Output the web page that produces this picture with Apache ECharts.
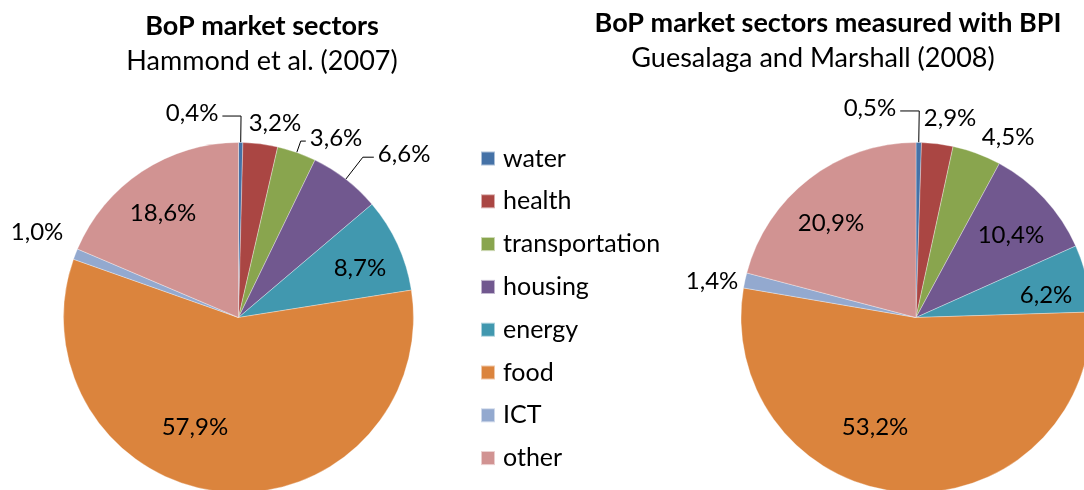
<!DOCTYPE html>
<html><head><meta charset="utf-8">
<script src="https://cdn.jsdelivr.net/npm/echarts@6/dist/echarts.min.js"></script>
<style>html,body{margin:0;padding:0;background:#fff}#c{width:1084px;height:490px}</style>
</head><body><div id="c"></div>
<script>
// ---- data ----
const categories = ['water', 'health', 'transportation', 'housing', 'energy', 'food', 'ICT', 'other'];
const hammond2007 = [0.4, 3.2, 3.6, 6.6, 8.7, 57.9, 1.0, 18.6];
const guesalaga2008 = [0.5, 2.9, 4.5, 10.4, 6.2, 53.2, 1.4, 20.9];

// ---- style ----
const colors = ['#4572A7', '#AA4643', '#89A54E', '#71588F', '#4198AF', '#DB843D', '#93A9CF', '#D19392'];
const FONT = 'Lato';
// label placement per slice: [radius factor, angle offset (deg), leader line]
const placeLeft = [[1.198, -13.5, 1], [1.131, 3.4, 0], [1.167, 9.1, 1], [1.329, 7.6, 1], [0.749, 2.5, 0], [0.673, 16.5, 0], [1.251, 1.8, 0], [0.737, -2.3, 0]];
const placeRight = [[1.226, -13.3, 1], [1.154, 2.7, 0], [1.158, 6.7, 0], [0.719, 1.8, 0], [0.754, 3.2, 0], [0.669, 16.5, 0], [1.183, -2.3, 0], [0.726, -4.4, 0]];

const chart = echarts.init(document.getElementById('c'));

function fmt(p) { return p.value.toFixed(1).replace('.', ',') + '%'; }

function makeLayout(places) {
  return function (p) {
    const data = chart.getModel().getSeriesByIndex(p.seriesIndex).getData();
    const L = data.getItemLayout(p.dataIndex);
    const pl = places[p.dataIndex];
    const mid = (L.startAngle + L.endAngle) / 2;
    const a = mid + pl[1] * Math.PI / 180;
    const x = L.cx + L.r * pl[0] * Math.cos(a);
    const y = L.cy + L.r * pl[0] * Math.sin(a);
    const res = { x: x, y: y, align: 'center', verticalAlign: 'middle' };
    if (pl[2]) {
      const ex = L.cx + L.r * Math.cos(mid), ey = L.cy + L.r * Math.sin(mid);
      const ly = y + 3;
      const t = (ly - ey) / Math.sin(mid);
      const bx = ex + t * Math.cos(mid);
      const hw = p.labelRect.width / 2 + 4;
      const endX = x > bx ? x - hw : x + hw;
      res.labelLinePoints = [[ex, ey], [bx, ly], [endX, ly]];
    }
    return res;
  };
}

function makeData(vals, places) {
  return categories.map(function (name, i) {
    return {
      name: name,
      value: vals[i],
      label: { position: places[i][2] ? 'outside' : 'inside' },
      labelLine: { show: !!places[i][2] }
    };
  });
}

function pieSeries(vals, places, center) {
  return {
    type: 'pie',
    center: center,
    radius: 175,
    startAngle: 90,
    clockwise: true,
    avoidLabelOverlap: false,
    left: 0, top: 0, width: 1084, height: 490,
    itemStyle: { borderColor: 'rgba(255,255,255,0.55)', borderWidth: 0.6 },
    label: { show: true, formatter: fmt, color: '#000', fontFamily: FONT, fontSize: 24 },
    labelLine: { length: 10, length2: 10, lineStyle: { color: '#000', width: 1 } },
    labelLayout: makeLayout(places),
    emphasis: { disabled: true },
    data: makeData(vals, places)
  };
}

chart.setOption({
  animation: false,
  color: colors,
  title: [
    { text: 'BoP market sectors', left: 262, top: 13, textAlign: 'center', padding: 0,
      textStyle: { fontFamily: FONT, fontWeight: 'bold', fontSize: 27, color: '#000' } },
    { text: 'Hammond et al. (2007)', left: 262, top: 48, textAlign: 'center', padding: 0,
      textStyle: { fontFamily: FONT, fontWeight: 'normal', fontSize: 27, color: '#000' } },
    { text: 'BoP market sectors measured with BPI', left: 828, top: 10, textAlign: 'center', padding: 0,
      textStyle: { fontFamily: FONT, fontWeight: 'bold', fontSize: 27, color: '#000' } },
    { text: 'Guesalaga and Marshall (2008)', left: 813, top: 45, textAlign: 'center', padding: 0,
      textStyle: { fontFamily: FONT, fontWeight: 'normal', fontSize: 27, color: '#000' } }
  ],
  legend: {
    data: categories,
    orient: 'vertical',
    left: 480, top: 146,
    padding: 0,
    icon: 'rect',
    itemWidth: 14, itemHeight: 14,
    itemGap: 17.8,
    selectedMode: false,
    textStyle: { fontFamily: FONT, fontSize: 25, color: '#000', lineHeight: 24, padding: [0, 0, 0, 3] }
  },
  series: [
    pieSeries(hammond2007, placeLeft, [238.5, 317.5]),
    pieSeries(guesalaga2008, placeRight, [916, 317.5])
  ]
});
</script>
</body></html>
